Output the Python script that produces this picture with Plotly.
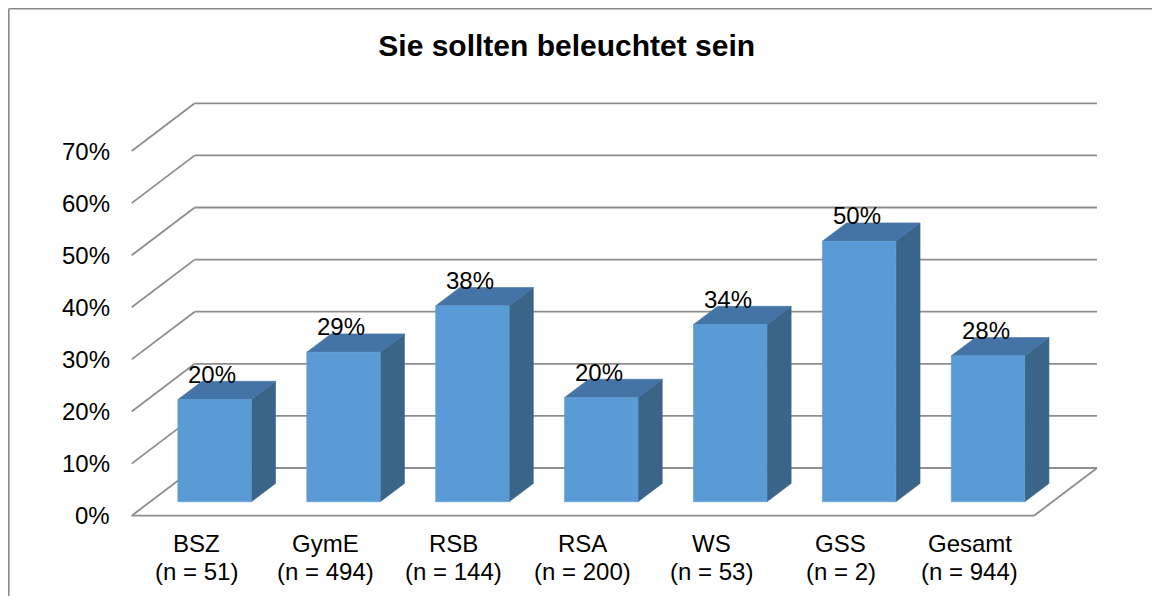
import plotly.graph_objects as go

# ---------------- data ----------------
categories = ["BSZ", "GymE", "RSB", "RSA", "WS", "GSS", "Gesamt"]
sample_sizes = ["(n = 51)", "(n = 494)", "(n = 144)", "(n = 200)", "(n = 53)", "(n = 2)", "(n = 944)"]
values = [19.6, 28.7, 37.6, 20.0, 34.0, 50.0, 28.0]
y_ticks = [0, 10, 20, 30, 40, 50, 60, 70]
title_text = "Sie sollten beleuchtet sein"

# ---------------- geometry / style ----------------
PAGE_OFF = 8            # default body margin of the html page
W, H = 1160 - 2 * PAGE_OFF, 604 - 2 * PAGE_OFF
CAT_PX = 128.9          # pixels per category
PCT_PX = 5.21           # pixels per percent
X0_PX = 131.7 - PAGE_OFF   # left front corner of floor (figure pixel x)
Y0_PX = 515.7 - PAGE_OFF   # 0% on front plane (figure pixel y)
DX = 63.0 / CAT_PX      # depth offset in category units
DY = 47.7 / PCT_PX      # depth offset in percent units
BAR_Z0, BAR_Z1 = 0.293, 0.677
BAR_HALF = 0.285

FONT = "Arial, 'Liberation Sans', sans-serif"
GRID = "#8e8e8e"
FRONT = "#5B9BD5"
SIDE = "#3B6489"
TOP = "#4474A6"

x_range = [-0.5 - X0_PX / CAT_PX, -0.5 + (W - X0_PX) / CAT_PX]
y_range = [(Y0_PX - H) / PCT_PX, Y0_PX / PCT_PX]

n = len(categories)
x_left, x_right = -0.5, n - 0.5


def proj(u, v, z):
    return u + DX * z, v + DY * z


fig = go.Figure()

# ---- walls / floor lines ----
gx, gy = [], []
def seg(p, q):
    gx.extend([p[0], q[0], None])
    gy.extend([p[1], q[1], None])

for t in y_ticks:
    seg(proj(x_left, t, 1), proj(x_right, t, 1))   # back wall grid
    seg(proj(x_left, t, 0), proj(x_left, t, 1))    # left wall diagonals
seg(proj(x_left, 0, 0), proj(x_right, 0, 0))       # floor front edge
seg(proj(x_right, 0, 0), proj(x_right, 0, 1))      # floor right edge

fig.add_trace(go.Scatter(x=gx, y=gy, mode="lines", line=dict(color=GRID, width=1.8),
                         hoverinfo="skip", showlegend=False))

# ---- 3D bars ----
def poly(pts, color):
    xs = [p[0] for p in pts] + [pts[0][0]]
    ys = [p[1] for p in pts] + [pts[0][1]]
    fig.add_trace(go.Scatter(x=xs, y=ys, mode="lines", fill="toself", fillcolor=color,
                             line=dict(color=color, width=0.6), hoverinfo="skip",
                             showlegend=False))

for i, val in enumerate(values):
    l, r = i - BAR_HALF, i + BAR_HALF
    poly([proj(r, 0, BAR_Z0), proj(r, 0, BAR_Z1), proj(r, val, BAR_Z1), proj(r, val, BAR_Z0)], SIDE)
    poly([proj(l, val, BAR_Z0), proj(r, val, BAR_Z0), proj(r, val, BAR_Z1), proj(l, val, BAR_Z1)], TOP)
    poly([proj(l, 0, BAR_Z0), proj(r, 0, BAR_Z0), proj(r, val, BAR_Z0), proj(l, val, BAR_Z0)], FRONT)

annotations = []
for i, val in enumerate(values):
    ax_, _ = proj(i, val, BAR_Z0)
    _, ay_ = proj(i, val, BAR_Z1)
    annotations.append(dict(x=ax_, y=ay_, xref="x", yref="y", text=f"{round(val)}%",
                            showarrow=False, xanchor="center", yanchor="middle",
                            xshift=-2.5, yshift=7, font=dict(family=FONT, size=24, color="#000")))
for t in y_ticks:
    annotations.append(dict(x=x_left, y=t, xref="x", yref="y", text=f"{t}%", showarrow=False,
                            xanchor="right", yanchor="middle", xshift=-20,
                            font=dict(family=FONT, size=24, color="#000")))
for i, (c, s) in enumerate(zip(categories, sample_sizes)):
    annotations.append(dict(x=i, y=0, xref="x", yref="y", text=c, showarrow=False,
                            xanchor="center", yanchor="middle", yshift=-28,
                            font=dict(family=FONT, size=24, color="#000")))
    annotations.append(dict(x=i, y=0, xref="x", yref="y", text=s, showarrow=False,
                            xanchor="center", yanchor="middle", yshift=-56,
                            font=dict(family=FONT, size=24, color="#000")))

fig.update_layout(
    width=W, height=H,
    margin=dict(l=0, r=0, t=0, b=0),
    paper_bgcolor="white", plot_bgcolor="white",
    xaxis=dict(range=x_range, visible=False, fixedrange=True),
    yaxis=dict(range=y_range, visible=False, fixedrange=True),
    title=dict(text=f"<b>{title_text}</b>", x=(566.7 - PAGE_OFF) / W, y=1 - (45 - PAGE_OFF) / H,
               xanchor="center", yanchor="middle",
               font=dict(family=FONT, size=30, color="#000")),
    annotations=annotations,
    shapes=[
        dict(type="line", xref="paper", yref="paper", x0=0.8 / W, x1=1, y0=1 - 0.8 / H, y1=1 - 0.8 / H,
             line=dict(color="#8a8a8a", width=1.6)),
        dict(type="line", xref="paper", yref="paper", x0=0.8 / W, x1=0.8 / W, y0=0, y1=1 - 0.8 / H,
             line=dict(color="#8a8a8a", width=1.6)),
    ],
    showlegend=False,
)

fig.write_html("out.html")
